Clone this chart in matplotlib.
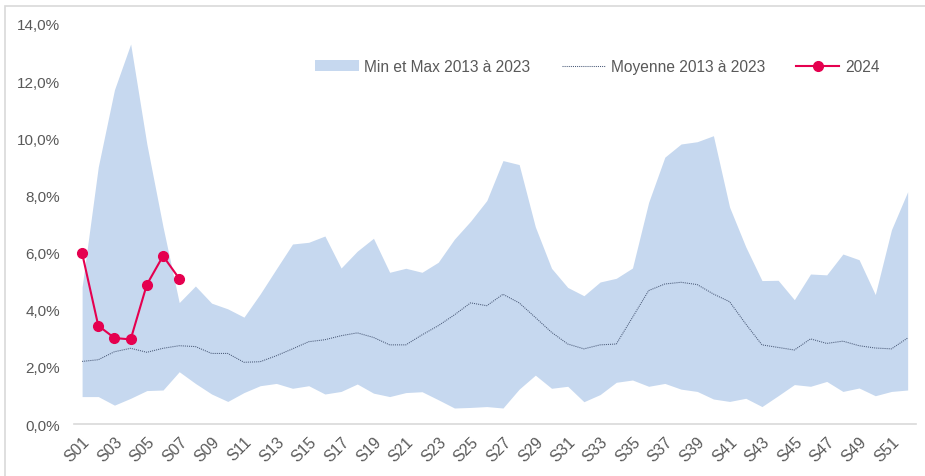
import matplotlib
matplotlib.use("Agg")
import matplotlib.pyplot as plt
from matplotlib.patches import Rectangle
from matplotlib.ticker import FuncFormatter, FixedLocator

plt.rcParams['font.family'] = ['Liberation Sans', 'DejaVu Sans']

weeks = [f"S{i:02d}" for i in range(1, 53)]

max_vals = [4.8, 9.0, 11.7, 13.3, 9.8, 6.9, 4.25, 4.83, 4.23, 4.03, 3.74, 4.55, 5.43, 6.3, 6.36,
            6.58, 5.46, 6.05, 6.5, 5.31, 5.45, 5.31, 5.66, 6.47, 7.1, 7.82, 9.22, 9.08, 6.9, 5.45,
            4.78, 4.49, 4.97, 5.1, 5.46, 7.76, 9.34, 9.8, 9.88, 10.09, 7.59, 6.2, 5.02, 5.03, 4.35,
            5.25, 5.22, 5.95, 5.75, 4.53, 6.8, 8.13]

min_vals = [0.96, 0.96, 0.66, 0.9, 1.17, 1.19, 1.83, 1.42, 1.05, 0.79, 1.1, 1.34, 1.42, 1.25, 1.34,
            1.05, 1.14, 1.4, 1.08, 0.96, 1.1, 1.13, 0.85, 0.56, 0.58, 0.61, 0.56, 1.22, 1.71, 1.25,
            1.32, 0.78, 1.03, 1.46, 1.54, 1.32, 1.42, 1.22, 1.14, 0.875, 0.79, 0.9, 0.61, 0.99, 1.38,
            1.32, 1.49, 1.14, 1.26, 0.99, 1.14, 1.19]

mean_vals = [2.19, 2.25, 2.53, 2.65, 2.51, 2.65, 2.74, 2.71, 2.47, 2.47, 2.16, 2.18, 2.39, 2.63, 2.88,
             2.95, 3.09, 3.19, 3.03, 2.77, 2.77, 3.12, 3.44, 3.82, 4.24, 4.14, 4.54, 4.24, 3.73, 3.21,
             2.8, 2.63, 2.77, 2.8, 3.73, 4.67, 4.9, 4.96, 4.88, 4.55, 4.28, 3.5, 2.77, 2.68, 2.59,
             2.98, 2.82, 2.9, 2.74, 2.66, 2.63, 3.01]

vals_2024 = [5.98, 3.44, 3.01, 2.96, 4.88, 5.88, 5.09]

y_ticks = [0, 2, 4, 6, 8, 10, 12, 14]

fig = plt.figure(figsize=(9.25, 4.77), dpi=100)
ax = fig.add_axes([0.08, 0.109, 0.91, 0.8386])

x = list(range(1, 53))
band = ax.fill_between(x, min_vals, max_vals, color='#c6d8ef', linewidth=0,
                       label='Min et Max 2013 à 2023')
mean_line, = ax.plot(x, mean_vals, color='#4a5a78', linestyle=(0, (1, 1)), linewidth=0.75,
                     label='Moyenne 2013 à 2023')
line24, = ax.plot(x[:len(vals_2024)], vals_2024, color='#e5004f', linewidth=1.5, marker='o',
                  markersize=7, label='2024')

ax.set_xlim(0.5, 52.5)
ax.set_ylim(0, 14)
ax.yaxis.set_major_locator(FixedLocator(y_ticks))
ax.yaxis.set_major_formatter(FuncFormatter(lambda v, p: f"{v:.1f}%".replace('.', ',')))
ax.set_xticks(x[::2])
ax.set_xticklabels(weeks[::2], rotation=45, ha='right', rotation_mode='anchor')

for s in ['top', 'right', 'left']:
    ax.spines[s].set_visible(False)
ax.spines['bottom'].set_color('#d9d9d9')
ax.spines['bottom'].set_linewidth(1.2)
ax.tick_params(axis='both', length=0, colors='#595959', labelsize=11)
ax.tick_params(axis='x', pad=7, labelsize=11.3)
ax.tick_params(axis='y', pad=10)

leg = ax.legend(handles=[band, mean_line, line24], loc='upper left',
                bbox_to_anchor=(0.27, 0.947), ncol=3, frameon=False, fontsize=11.2,
                handlelength=2.8, handletextpad=0.35, columnspacing=2.0)
for t in leg.get_texts():
    t.set_color('#595959')

fig.patches.append(Rectangle((5 / 925, -0.05), 1.0, 1 - 7 / 477 + 0.05, transform=fig.transFigure,
                             fill=False, edgecolor='#d9d9d9', linewidth=1.2))

fig.savefig('out.png', dpi=100)
